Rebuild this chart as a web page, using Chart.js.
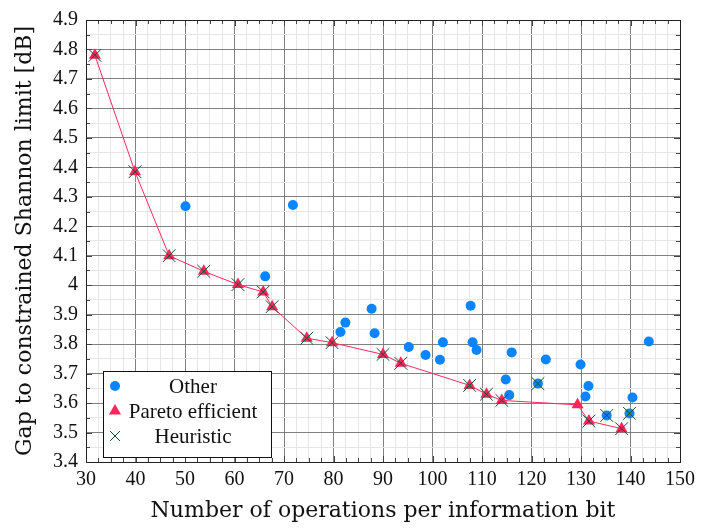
<!DOCTYPE html>
<html>
<head>
<meta charset="utf-8">
<script src="https://cdn.jsdelivr.net/npm/chart.js@4/dist/chart.umd.min.js"></script>
<style>
    body { margin: 0; background: #fff; }
    #wrap { width: 722px; height: 529px; }
</style>
</head>
<body>
<div id="wrap"><canvas id="paretoChart" width="722" height="529"></canvas></div>
<script>
// values
const otherX = [50.1, 71.8, 66.2, 81.4, 82.4, 87.7, 88.3, 95.2, 98.6, 101.5, 102.1, 107.7, 108.1, 108.9, 114.8, 115.5, 116.0, 121.3, 122.9, 129.9, 130.9, 131.5, 135.2, 139.8, 140.4, 143.7];
const otherY = [4.268, 4.272, 4.03, 3.841, 3.873, 3.92, 3.837, 3.79, 3.763, 3.747, 3.806, 3.93, 3.806, 3.78, 3.68, 3.627, 3.772, 3.666, 3.748, 3.731, 3.622, 3.658, 3.558, 3.565, 3.619, 3.809];

const paretoX = [31.8, 39.9, 46.8, 53.8, 60.7, 65.8, 67.6, 74.6, 79.7, 90.0, 93.6, 107.5, 110.9, 114.0, 129.3, 131.6, 138.2];
const paretoY = [4.78, 4.385, 4.10, 4.047, 4.002, 3.977, 3.927, 3.82, 3.805, 3.765, 3.735, 3.66, 3.63, 3.609, 3.594, 3.539, 3.513];

const heuristicX = [31.8, 39.9, 46.8, 53.8, 60.7, 65.8, 67.6, 74.6, 79.7, 90.0, 93.6, 107.5, 110.9, 114.0, 121.3, 131.6, 135.2, 138.2, 139.8];
const heuristicY = [4.78, 4.385, 4.10, 4.047, 4.002, 3.977, 3.927, 3.82, 3.805, 3.765, 3.735, 3.66, 3.63, 3.609, 3.666, 3.539, 3.558, 3.513, 3.565];

const seriesNames = ['Other', 'Pareto efficient', 'Heuristic'];

const xMin = 30, xMax = 150, xMajor = 10, xMinor = 2.5;
const yMin = 3.4, yMax = 4.9, yMajor = 0.1, yMinor = 0.05;

const serif = "'Liberation Serif', 'DejaVu Serif', serif";
const wideSerif = "'DejaVu Serif', 'Liberation Serif', serif";

function toPoints(xs, ys) {
    return xs.map((x, i) => ({x: x, y: ys[i]}));
}

function isMajor(value, step) {
    const r = value / step;
    return Math.abs(r - Math.round(r)) < 1e-6;
}

// frame, inward ticks and the legend box inside the plot
const framePlugin = {
    id: 'frame',
    afterDatasetsDraw(chart) {
        const {ctx, chartArea: a} = chart;
        const xs = chart.scales.x, ys = chart.scales.y;
        ctx.save();
        ctx.strokeStyle = '#444';
        ctx.lineWidth = 1;
        xs.ticks.forEach(t => {
            const px = Math.round(xs.getPixelForValue(t.value)) + 0.5;
            const len = isMajor(t.value, xMajor) ? 6 : 4;
            ctx.beginPath();
            ctx.moveTo(px, a.top); ctx.lineTo(px, a.top + len);
            ctx.moveTo(px, a.bottom); ctx.lineTo(px, a.bottom - len);
            ctx.stroke();
        });
        ys.ticks.forEach(t => {
            const py = Math.round(ys.getPixelForValue(t.value)) + 0.5;
            const len = isMajor(t.value, yMajor) ? 6 : 4;
            ctx.beginPath();
            ctx.moveTo(a.left, py); ctx.lineTo(a.left + len, py);
            ctx.moveTo(a.right, py); ctx.lineTo(a.right - len, py);
            ctx.stroke();
        });
        ctx.strokeStyle = '#222';
        ctx.strokeRect(Math.round(a.left) + 0.5, Math.round(a.top) + 0.5,
            Math.round(a.right - a.left), Math.round(a.bottom - a.top));

        // legend
        const bx = a.left + 17, by = a.bottom - 91, bw = 168, bh = 86;
        ctx.fillStyle = '#fff';
        ctx.fillRect(bx, by, bw, bh);
        ctx.strokeStyle = '#111';
        ctx.strokeRect(bx + 0.5, by + 0.5, bw, bh);
        ctx.font = '21px ' + serif;
        ctx.textAlign = 'center';
        ctx.textBaseline = 'middle';
        const legendRadius = [5, 7, 7];
        chart.data.datasets.forEach((ds, i) => {
            const cy = by + 15 + i * 25;
            ctx.fillStyle = ds.backgroundColor;
            ctx.strokeStyle = ds.borderColor;
            ctx.lineWidth = 1;
            Chart.helpers.drawPoint(ctx, {
                pointStyle: ds.pointStyle,
                radius: legendRadius[i],
                borderWidth: i === 2 ? 1 : 0,
                rotation: 0
            }, bx + 12, cy);
            ctx.fillStyle = '#111';
            ctx.fillText(ds.label, bx + 90, cy + 1);
        });
        ctx.restore();
    }
};

new Chart(document.getElementById('paretoChart'), {
    type: 'scatter',
    data: {
        datasets: [
            {
                label: seriesNames[0],
                data: toPoints(otherX, otherY),
                pointStyle: 'circle',
                pointRadius: 5,
                pointBorderWidth: 0,
                backgroundColor: 'rgb(10,132,255)',
                borderColor: 'rgb(10,132,255)',
                order: 3
            },
            {
                label: seriesNames[1],
                data: toPoints(paretoX, paretoY),
                showLine: true,
                borderWidth: 1,
                pointStyle: 'triangle',
                pointRadius: 7,
                pointBorderWidth: 0,
                backgroundColor: 'rgb(255,38,92)',
                borderColor: 'rgb(255,38,92)',
                order: 2
            },
            {
                label: seriesNames[2],
                data: toPoints(heuristicX, heuristicY),
                pointStyle: 'crossRot',
                pointRadius: 9,
                pointBorderWidth: 1,
                backgroundColor: 'rgb(15,80,50)',
                borderColor: 'rgb(15,80,50)',
                order: 1
            }
        ]
    },
    options: {
        responsive: false,
        animation: false,
        layout: {padding: {top: 10, right: 42, left: 0, bottom: 0}},
        plugins: {
            legend: {display: false},
            tooltip: {enabled: false}
        },
        scales: {
            x: {
                type: 'linear',
                min: xMin, max: xMax,
                afterFit(scale) { scale.height = 67; },
                ticks: {
                    stepSize: xMinor,
                    autoSkip: false,
                    maxRotation: 0,
                    padding: 6,
                    color: '#111',
                    font: {family: serif, size: 20},
                    callback: v => isMajor(v, xMajor) ? String(Math.round(v)) : ''
                },
                grid: {
                    drawTicks: false,
                    color: c => isMajor(c.tick.value, xMajor) ? 'rgba(115,115,115,0.9)' : '#e6e6e6',
                    lineWidth: 1
                },
                border: {display: false},
                title: {
                    display: true,
                    text: 'Number of operations per information bit',
                    color: '#111',
                    font: {family: wideSerif, size: 22},
                    padding: {top: 0, bottom: 5}
                }
            },
            y: {
                type: 'linear',
                min: yMin, max: yMax,
                afterFit(scale) { scale.width = 86; },
                ticks: {
                    stepSize: yMinor,
                    autoSkip: false,
                    padding: 8,
                    color: '#111',
                    font: {family: serif, size: 20},
                    callback: v => isMajor(v, yMajor) ? String(Number(v.toFixed(1))) : ''
                },
                grid: {
                    drawTicks: false,
                    color: c => isMajor(c.tick.value, yMajor) ? 'rgba(115,115,115,0.9)' : '#e6e6e6',
                    lineWidth: 1
                },
                border: {display: false},
                title: {
                    display: true,
                    text: 'Gap to constrained Shannon limit [dB]',
                    color: '#111',
                    font: {family: wideSerif, size: 22},
                    padding: {top: 12, bottom: 0}
                }
            }
        }
    },
    plugins: [framePlugin]
});
</script>
</body>
</html>
